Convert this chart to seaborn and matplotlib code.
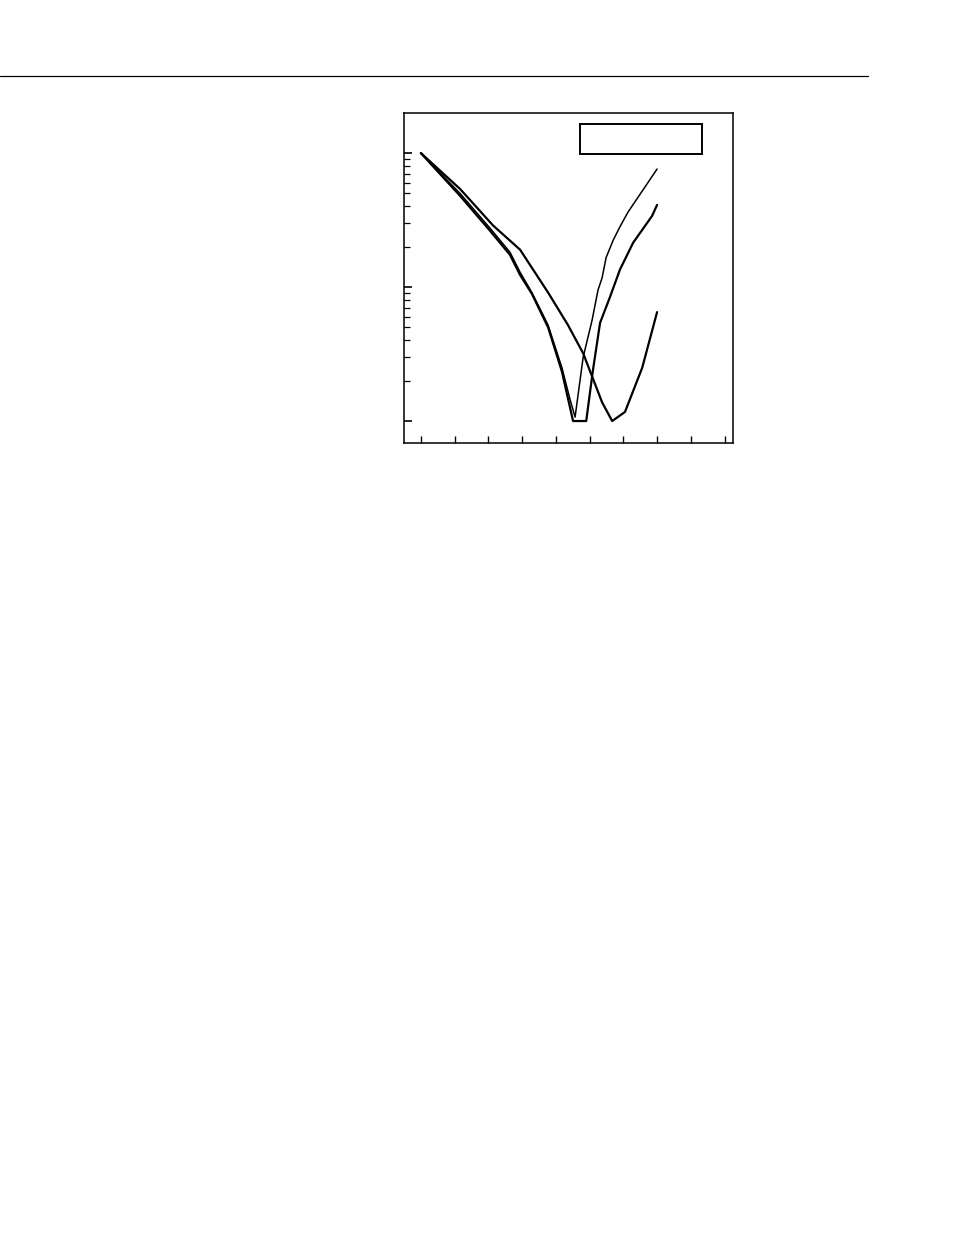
# Three log-scale response curves, page-style layout (no labels in source)

import numpy as np
import pandas as pd
import matplotlib
matplotlib.use("Agg")
import matplotlib.pyplot as plt
import seaborn as sns
from matplotlib.lines import Line2D
from matplotlib.patches import Rectangle
from matplotlib.ticker import FixedLocator, MultipleLocator

# ── data ─────────────────────────────────────────────────────
x_a = [0, 1.16, 2.05, 2.64, 2.94, 3.29, 3.77, 4.18, 4.42, 4.57,
       4.81, 5.07, 5.25, 5.37, 5.49, 5.70, 5.90, 6.14, 7.0]
y_a = [1.0, 0.50, 0.275, 0.182, 0.129, 0.091, 0.052, 0.025, 0.0145, 0.0107,
       0.030, 0.056, 0.095, 0.117, 0.166, 0.224, 0.282, 0.363, 0.76]

x_b = [0, 1.16, 2.05, 2.64, 2.94, 3.29, 3.77, 4.18, 4.51, 4.90,
       5.10, 5.31, 5.61, 5.90, 6.29, 6.85, 7.0]
y_b = [1.0, 0.48, 0.263, 0.174, 0.123, 0.089, 0.050, 0.0234, 0.010, 0.010,
       0.024, 0.054, 0.085, 0.135, 0.214, 0.339, 0.41]

x_c = [0, 1.16, 2.14, 2.94, 3.77, 4.36, 4.81, 5.37, 5.67, 6.05, 6.56, 7.0]
y_c = [1.0, 0.54, 0.288, 0.19, 0.091, 0.052, 0.032, 0.0138, 0.010, 0.0117,
       0.025, 0.065]

y_major = [0.01, 0.1, 1.0]
y_minor = [k * d for d in (0.01, 0.1) for k in range(2, 10)]

frames = []
for name, xs, ys in [("A", x_a, y_a), ("B", x_b, y_b), ("C", x_c, y_c)]:
    frames.append(pd.DataFrame({"x": xs, "y": ys, "curve": name}))
df = pd.concat(frames, ignore_index=True)

# ── figure ───────────────────────────────────────────────────
sns.set_style("white")
fig = plt.figure(figsize=(9.54, 12.35), dpi=100)
ax = fig.add_axes([404 / 954, 1 - 443 / 1235, 329 / 954, 330 / 1235])

widths = {"A": 1.1, "B": 1.6, "C": 1.6}
for name, sub in df.groupby("curve"):
    sns.lineplot(data=sub, x="x", y="y", ax=ax, color="black",
                 linewidth=widths[name], estimator=None, sort=False,
                 legend=False)

ax.set_yscale("log")
ax.set_xlim(-0.5, 9.25)
ax.set_ylim(10 ** -2.164, 10 ** 0.299)
ax.xaxis.set_major_locator(MultipleLocator(1))
ax.yaxis.set_major_locator(FixedLocator(y_major))
ax.yaxis.set_minor_locator(FixedLocator(y_minor))
ax.tick_params(which="both", direction="in", left=True, bottom=True,
               right=False, top=False, labelleft=False, labelbottom=False,
               color="black")
ax.tick_params(axis="y", which="major", length=6, width=1.2)
ax.tick_params(axis="y", which="minor", length=4, width=0.9)
ax.tick_params(axis="x", which="major", length=5, width=1.0)
ax.set_xlabel("")
ax.set_ylabel("")
for sp in ax.spines.values():
    sp.set_color("black")
    sp.set_linewidth(1.1)

# empty legend frame
ax.add_patch(Rectangle((0.535, 0.876), 0.371, 0.091, transform=ax.transAxes,
                       fill=False, edgecolor="black", linewidth=1.4))

# page header rule
fig.add_artist(Line2D([0, 868 / 954], [1 - 76 / 1235, 1 - 76 / 1235],
                      color="black", linewidth=0.9))

plt.savefig("out.png", dpi=100)
